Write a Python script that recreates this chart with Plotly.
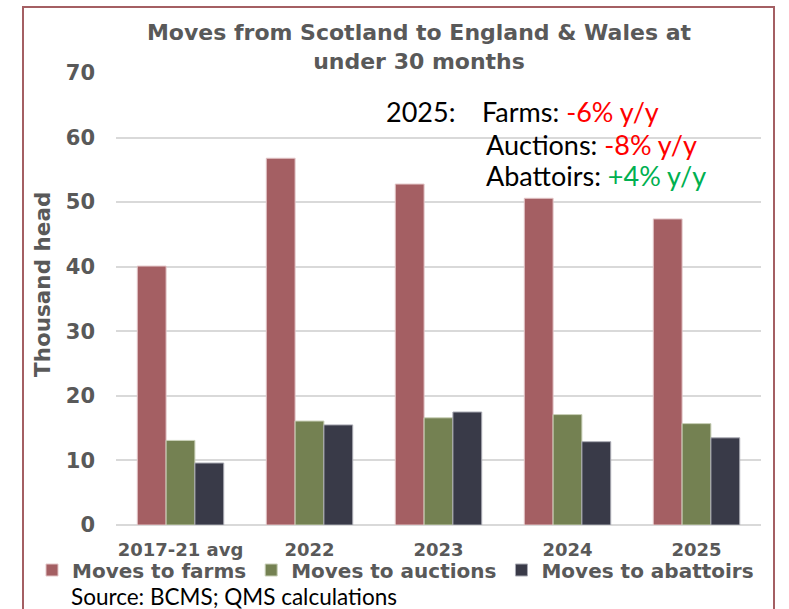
import plotly.graph_objects as go

# Data (thousand head)
categories = ["2017-21 avg", "2022", "2023", "2024", "2025"]
farms = [40.1, 56.8, 52.8, 50.6, 47.4]
auctions = [13.1, 16.1, 16.6, 17.1, 15.7]
abattoirs = [9.6, 15.5, 17.5, 12.9, 13.5]
series_names = ["Moves to farms", "Moves to auctions", "Moves to abattoirs"]
series_colors = ["#A45F63", "#748152", "#393A48"]
edge_colors = ["#E3C6C8", "#C9D0B8", "#A9AAB3"]

W, H = 789, 609
L, R, T, B = 116, 28, 73, 84
PW, PH = W - L - R, H - T - B


def px(x):
    return (x - L) / PW


def py(y):
    return (H - B - y) / PH


GREY = "#595959"
BOLD = "DejaVu Sans"
REG = "Lato"

fig = go.Figure()
for name, vals, col, edge in zip(series_names, [farms, auctions, abattoirs],
                                 series_colors, edge_colors):
    fig.add_trace(go.Bar(
        x=categories, y=vals, name=name,
        marker=dict(color=col, line=dict(color=edge, width=1)),
    ))

fig.update_layout(
    width=W, height=H,
    margin=dict(l=L, r=R, t=T, b=B),
    paper_bgcolor="white", plot_bgcolor="white",
    barmode="group", bargap=0.33, bargroupgap=0,
    font=dict(family=BOLD, color=GREY),
    title=dict(
        text="Moves from Scotland to England & Wales at<br>under 30 months",
        x=419 / W, xanchor="center", y=1 - 40 / H, yanchor="middle",
        font=dict(size=22, color=GREY, family=BOLD, weight=700),
    ),
    showlegend=True,
    legend=dict(
        orientation="h", x=px(32), xanchor="left", y=py(570), yanchor="middle",
        font=dict(size=20, color=GREY, family=BOLD, weight=700),
        bgcolor="rgba(0,0,0,0)", itemwidth=30, traceorder="normal",
    ),
)

fig.update_xaxes(
    showline=False, showgrid=False, ticks="",
    tickfont=dict(size=18, color=GREY, family=BOLD, weight=700),
    ticklabelstandoff=12,
)
fig.update_yaxes(
    range=[0, 70], dtick=10, showgrid=True, gridcolor="#D9D9D9", gridwidth=2,
    zeroline=True, zerolinecolor="#D9D9D9", zerolinewidth=2,
    showline=False, ticks="",
    tickfont=dict(size=21, color=GREY, family=BOLD, weight=700),
    ticklabelstandoff=20,
)

# Outer frame
fig.add_shape(type="rect", xref="paper", yref="paper",
              x0=px(23), x1=px(774), y0=py(640), y1=py(7),
              line=dict(color="#A45F63", width=2), fillcolor="rgba(0,0,0,0)",
              layer="below")

# Y-axis title
fig.add_annotation(text="Thousand head", xref="paper", yref="paper",
                   x=px(42), y=py(285), textangle=-90, showarrow=False,
                   font=dict(size=21.5, color=GREY, family=BOLD, weight=700),
                   xanchor="center", yanchor="middle")

# 2025 year-on-year notes
RED, GREEN = "#FF0000", "#00B050"
notes = [
    (384, 112, "2025:"),
    (480, 112, f"Farms: <span style='color:{RED}'>-6% y/y</span>"),
    (484, 144, f"Auctions: <span style='color:{RED}'>-8% y/y</span>"),
    (484, 175, f"Abattoirs: <span style='color:{GREEN}'>+4% y/y</span>"),
]
for x, y, txt in notes:
    fig.add_annotation(text=txt, xref="paper", yref="paper", x=px(x), y=py(y),
                       xanchor="left", yanchor="middle", showarrow=False,
                       font=dict(size=27, color="black", family=REG))

# Source line
fig.add_annotation(text="Source: BCMS; QMS calculations", xref="paper", yref="paper",
                   x=px(69), y=py(596), xanchor="left", yanchor="middle",
                   showarrow=False, font=dict(size=22.5, color="black", family=REG))

fig.write_html("out.html")
